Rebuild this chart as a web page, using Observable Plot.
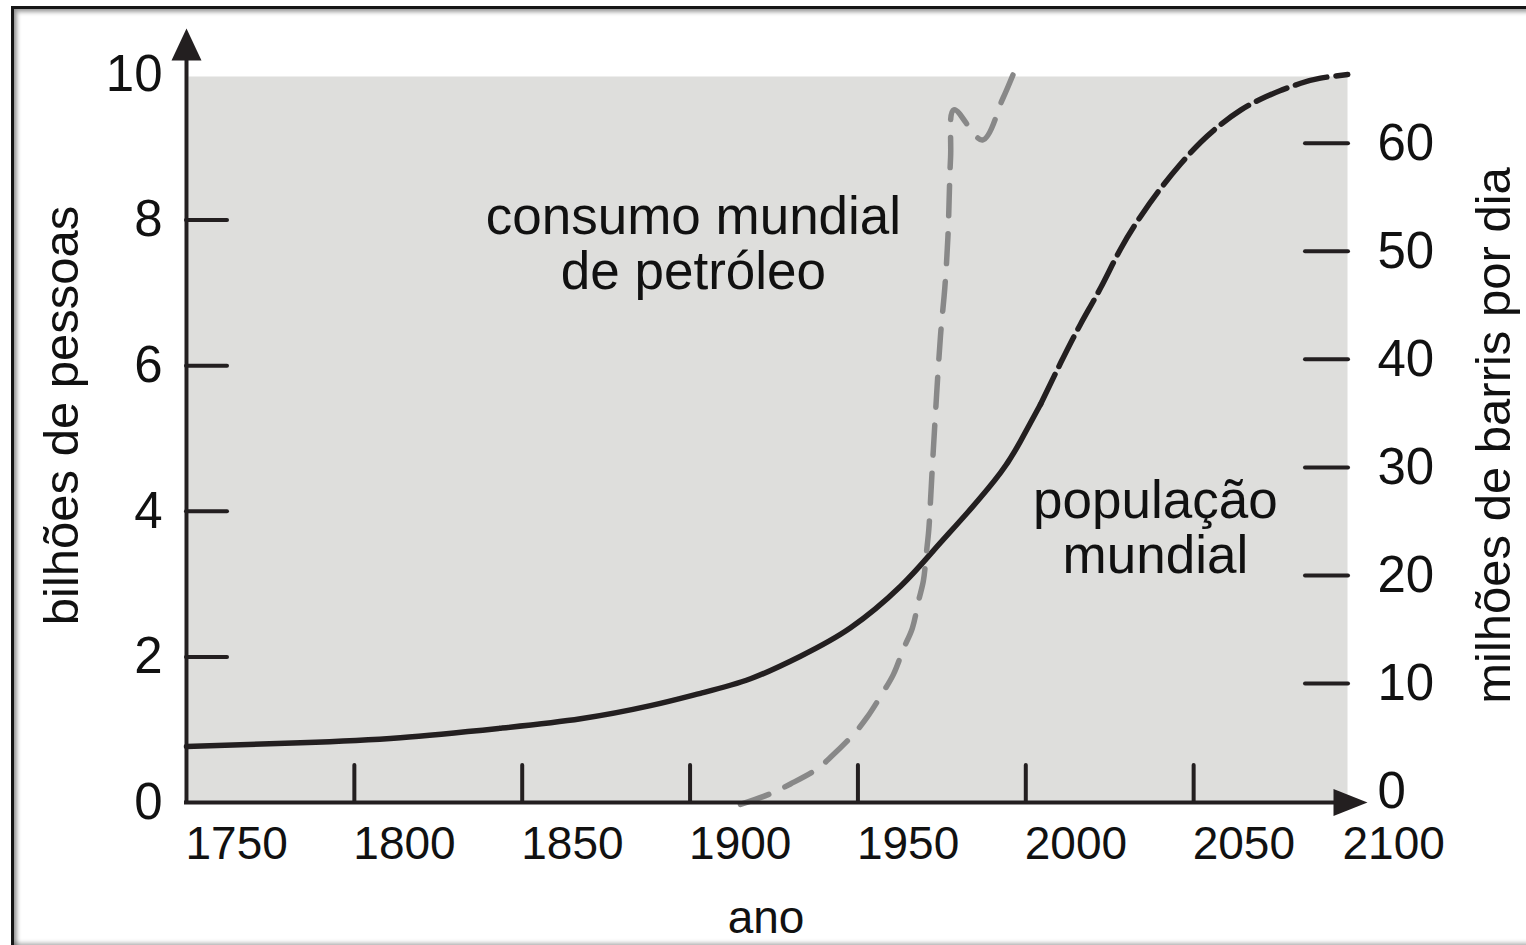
<!DOCTYPE html>
<html>
<head>
<meta charset="utf-8">
<script src="https://cdn.jsdelivr.net/npm/d3@7"></script>
<script src="https://cdn.jsdelivr.net/npm/@observablehq/plot@0.6"></script>
<style>
  html, body { margin: 0; padding: 0; background: #fff; overflow: hidden; }
  #border { position: absolute; left: 11px; top: 6px; width: 1530px; height: 942px; box-sizing: border-box;
            border: 3px solid #161616; box-shadow: inset 3px 3px 4px rgba(0,0,0,0.38), inset -1px -2px 4px rgba(0,0,0,0.3); }
  #chart { position: absolute; left: 0; top: 0; }
</style>
</head>
<body>
<div id="border"></div>
<div id="chart"></div>
<script>
// ---- data ----
// World population (billions), observed part (solid)
const popSolidYears  = [1750, 1784.0, 1813.7, 1843.5, 1867.4, 1888.2, 1903.1, 1918.0, 1932.9, 1947.8, 1962.7, 1972.5, 1982.6, 1992.5, 1998.4, 2004.4];
const popSolidValues = [0.77, 0.82, 0.89, 1.02, 1.15, 1.33, 1.50, 1.70, 2.01, 2.40, 2.97, 3.46, 3.98, 4.53, 4.96, 5.47];
// World population (billions), projection (dashed)
const popProjYears  = [2004.4, 2010.4, 2016.3, 2022.3, 2028.2, 2034.2, 2040.1, 2046.1, 2052.1, 2058.0, 2064.0, 2069.9, 2075.9, 2081.9, 2087.8, 2095.9];
const popProjValues = [5.47, 6.04, 6.57, 7.07, 7.60, 8.05, 8.43, 8.77, 9.07, 9.31, 9.51, 9.66, 9.78, 9.88, 9.95, 10.0];
// World oil consumption (millions of barrels per day), right axis
const oilYears  = [1915.0, 1924.0, 1929.9, 1937.9, 1942.3, 1949.0, 1952.8, 1957.5, 1960.5, 1963.7, 1966.2, 1968.1, 1969.5, 1970.4, 1971.1, 1971.6, 1972.4, 1974.6, 1975.9, 1976.8, 1977.6, 1978.6, 1987.1, 1993.1, 1996.4];
const oilValues = [-1.2, -0.2, 0.7, 2.1, 3.3, 5.4, 6.9, 9.2, 10.8, 13.3, 15.1, 17.7, 19.5, 22.1, 24.2, 26.8, 31.3, 42.2, 46.7, 51.3, 58.7, 63.1, 60.3, 64.1, 66.5];

// ticks and labels
const leftTickLabels = [0, 2, 4, 6, 8, 10];
const leftTickMarks  = [2, 4, 6, 8];
const rightTickLabels = [0, 10, 20, 30, 40, 50, 60];
const rightTickMarks  = [10, 20, 30, 40, 50, 60];
const xTickMarks  = [1800, 1850, 1900, 1950, 2000, 2050];
const xTickLabels = [1750, 1800, 1850, 1900, 1950, 2000, 2050];
const xLastLabel  = [2100];

const leftTitle  = "bilhões de pessoas";
const rightTitle = "milhões de barris por dia";
const xTitle     = "ano";
const oilNote    = "consumo mundial\nde petróleo";
const popNote    = "população\nmundial";

// right axis relation: oil (Mb/d) -> left-axis units (billions)
const RIGHT_ZERO = 0.151, RIGHT_UNIT = 0.1484;
const oilToPop = v => RIGHT_ZERO + RIGHT_UNIT * v;

const popSolid = popSolidYears.map((y, i) => ({year: y, value: popSolidValues[i]}));
const popProj  = popProjYears.map((y, i) => ({year: y, value: popProjValues[i]}));
const oil      = oilYears.map((y, i) => ({year: y, value: oilValues[i]}));

const INK = "#231f20";
const arrowUp = {draw(c) { c.moveTo(0, -46); c.lineTo(15, -14); c.lineTo(-15, -14); c.closePath(); }};
const arrowRight = {draw(c) { c.moveTo(6, 0); c.lineTo(-28, -13.5); c.lineTo(-28, 13.5); c.closePath(); }};

const chart = Plot.plot({
  width: 1526,
  height: 945,
  marginLeft: 186,
  marginRight: 165,
  marginTop: 74,
  marginBottom: 143,
  x: {domain: [1750, 2100], axis: null},
  y: {domain: [0, 10], axis: null},
  style: {fontFamily: "'Liberation Sans', Arial, Helvetica, sans-serif", color: INK, background: "transparent", overflow: "visible"},
  marks: [
    Plot.frame({fill: "#dededc", stroke: "none", insetLeft: 2, insetRight: 14, insetTop: 2}),

    // population
    Plot.line(popSolid, {x: "year", y: "value", curve: "natural", stroke: INK, strokeWidth: 5.5}),
    Plot.line(popProj, {x: "year", y: "value", curve: "natural", stroke: INK, strokeWidth: 5.5, strokeDasharray: "33,9"}),
    // oil
    Plot.line(oil, {x: "year", y: d => oilToPop(d.value), curve: "catmull-rom", stroke: "#888888", strokeWidth: 5.5, strokeDasharray: "30,18"}),

    // tick marks
    Plot.tickY(leftTickMarks, {y: d => d, insetRight: 1134, stroke: INK, strokeWidth: 4, strokeLinecap: "round"}),
    Plot.tickY(rightTickMarks, {y: d => oilToPop(d), insetLeft: 1119, insetRight: 13, stroke: INK, strokeWidth: 4, strokeLinecap: "round"}),
    Plot.tickX(xTickMarks, {x: d => d, insetTop: 691, stroke: INK, strokeWidth: 4, strokeLinecap: "round"}),

    // axis lines + arrows
    Plot.ruleX([1750], {insetTop: -16, insetBottom: -2, stroke: INK, strokeWidth: 4}),
    Plot.ruleY([0], {insetLeft: -2, insetRight: 26, stroke: INK, strokeWidth: 4}),
    Plot.dot([0], {frameAnchor: "top-left", symbol: arrowUp, fill: INK, stroke: "none"}),
    Plot.dot([0], {frameAnchor: "bottom-right", symbol: arrowRight, fill: INK, stroke: "none"}),

    // tick labels
    Plot.text(leftTickLabels, {y: d => d, text: d => String(d), frameAnchor: "left", textAnchor: "end", dx: -24, fontSize: 51, fill: "#111"}),
    Plot.text(rightTickLabels, {y: d => oilToPop(d), text: d => String(d), frameAnchor: "right", textAnchor: "start", dx: 16, fontSize: 51, fill: "#111"}),
    Plot.text(xTickLabels, {x: d => d, text: d => String(d), frameAnchor: "bottom", textAnchor: "start", dx: -1, dy: 56, fontSize: 46, fill: "#111"}),
    Plot.text(xLastLabel, {x: d => d, text: d => String(d), frameAnchor: "bottom", textAnchor: "start", dx: -19, dy: 56, fontSize: 46, fill: "#111"}),

    // axis titles
    Plot.text([leftTitle], {text: d => d, frameAnchor: "left", textAnchor: "middle", rotate: -90, dx: -124, dy: -23, fontSize: 49, fill: "#111"}),
    Plot.text([rightTitle], {text: d => d, frameAnchor: "right", textAnchor: "middle", rotate: -90, dx: 133, dy: -3, fontSize: 49, fill: "#111"}),
    Plot.text([xTitle], {text: d => d, frameAnchor: "bottom", textAnchor: "middle", dx: -8, dy: 130, fontSize: 46, fill: "#111"}),

    // annotations
    Plot.text([oilNote], {x: 1901, y: 7.67, text: d => d, textAnchor: "middle", lineHeight: 1.04, fontSize: 53, fill: "#111"}),
    Plot.text([popNote], {x: 2038.6, y: 3.77, text: d => d, textAnchor: "middle", lineHeight: 1.04, fontSize: 53, fill: "#111"})
  ]
});
document.getElementById("chart").appendChild(chart);
</script>
</body>
</html>
